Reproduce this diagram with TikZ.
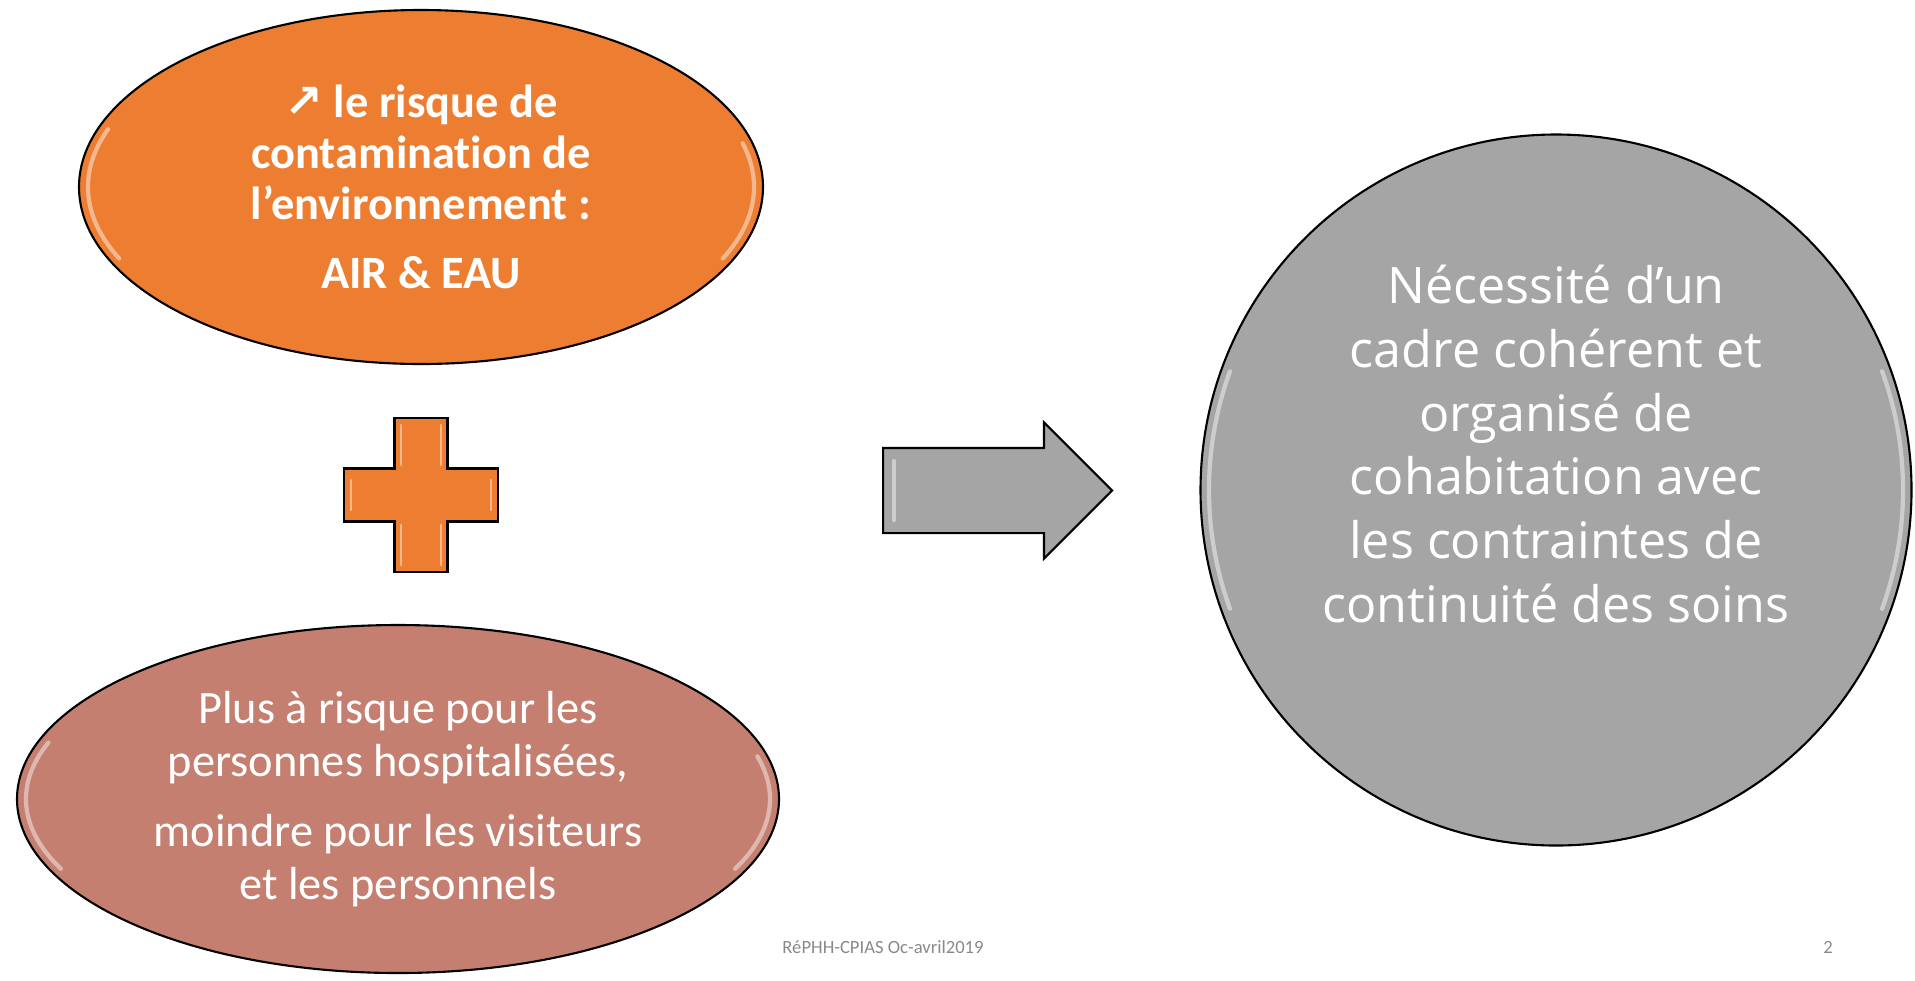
\documentclass[tikz,border=0pt]{standalone}
\usepackage{fontspec}
\setmainfont{Carlito}[Ligatures=NoCommon]
\newfontfamily\circfont{Open Sans}
\newfontfamily\symfont{DejaVu Sans}
\usetikzlibrary{shapes.geometric, shapes.arrows, positioning}
\definecolor{myorange}{RGB}{237, 125, 49}
\definecolor{myrose}{RGB}{196, 127, 112}
\definecolor{mygray}{RGB}{165, 165, 165}
\definecolor{myfoot}{RGB}{137, 137, 137}
\tikzset{>=latex}
\tikzset{
  blob/.style={ellipse, draw=black, line width=0.6pt, text=white, align=center, inner sep=0pt},
  rim/.style={white, opacity=0.45, line width=1.2pt, line cap=round},
  footnote/.style={text=myfoot, inner sep=0pt, font=\fontsize{5.3}{6}\selectfont},
}

\begin{document}
\begin{tikzpicture}
\useasboundingbox (0,0) rectangle (19.15,9.8);

% left column
\node[blob, fill=myorange, minimum width=6.84cm, minimum height=3.54cm,
  font=\fontsize{13.2}{14.5}\selectfont\bfseries] (env) at (4.21,7.93)
  {{\symfont ↗} le risque de\\contamination de\\l’environnement :\\[5pt]AIR \& EAU};
\draw[rim] ([shift={(env.center)}]160:3.33 and 1.69) arc[start angle=160, end angle=205, x radius=3.33, y radius=1.69];
\draw[rim] ([shift={(env.center)}]-25:3.33 and 1.69) arc[start angle=-25, end angle=15, x radius=3.33, y radius=1.69];

\coordinate (plus) at (4.21,4.85);
\draw[fill=myorange, line width=0.6pt] (plus) ++(-0.265,0.77) -- ++(0.53,0) -- ++(0,-0.505) -- ++(0.505,0)
  -- ++(0,-0.53) -- ++(-0.505,0) -- ++(0,-0.505) -- ++(-0.53,0) -- ++(0,0.505)
  -- ++(-0.505,0) -- ++(0,0.53) -- ++(0.505,0) -- cycle;
\draw[rim, opacity=0.45, line width=0.8pt] (plus) ++(-0.2,0.7) -- ++(0,-0.4) ++(0.4,0) -- ++(0,0.4);
\draw[rim, opacity=0.45, line width=0.8pt] (plus) ++(-0.2,-0.7) -- ++(0,0.4) ++(0.4,0) -- ++(0,-0.4);
\draw[rim, opacity=0.45, line width=0.8pt] (plus) ++(-0.7,-0.15) -- ++(0,0.3) ++(1.4,0) -- ++(0,-0.3);

\node[blob, fill=myrose, minimum width=7.62cm, minimum height=3.48cm,
  font=\fontsize{13.2}{15}\selectfont] (risk) at (3.98,1.81)
  {Plus à risque pour les\\personnes hospitalisées,\\[5pt]moindre pour les visiteurs\\et les personnels};
\draw[rim] ([shift={(risk.center)}]160:3.72 and 1.65) arc[start angle=160, end angle=205, x radius=3.72, y radius=1.65];
\draw[rim] ([shift={(risk.center)}]-25:3.72 and 1.65) arc[start angle=-25, end angle=15, x radius=3.72, y radius=1.65];

% arrow
\node[single arrow, draw=black, fill=mygray, line width=0.6pt, inner xsep=0pt, inner ysep=0.415cm,
  minimum height=2.29cm, minimum width=1.34cm, single arrow head extend=0.255cm,
  single arrow tip angle=90, anchor=tail] (go) at (8.82,4.895) {};
\draw[rim, line width=0.9pt] ([shift={(go.tail)}]0.12,-0.3) -- ++(0,0.6);

% right circle
\node[circle, draw=black, fill=mygray, line width=0.6pt, minimum size=7.11cm, inner sep=0pt] (need) at (15.56,4.90) {};
\draw[rim] ([shift={(need.center)}]160:3.47) arc[start angle=160, end angle=200, radius=3.47];
\draw[rim] ([shift={(need.center)}]-20:3.47) arc[start angle=-20, end angle=20, radius=3.47];
\node[text=white, align=center, inner sep=0pt, font=\circfont\fontsize{14.3}{18.1}\selectfont] (needtxt)
  at ([yshift=0.46cm]need.center)
  {Nécessité d’un\\cadre cohérent et\\organisé de\\cohabitation avec\\les contraintes de\\continuité des soins};

% footer
\node[footnote] (foot) at (8.83,0.33) {RéPHH-CPIAS Oc-avril2019};
\node[footnote] (page) at (18.28,0.33) {2};
\end{tikzpicture}
\end{document}
